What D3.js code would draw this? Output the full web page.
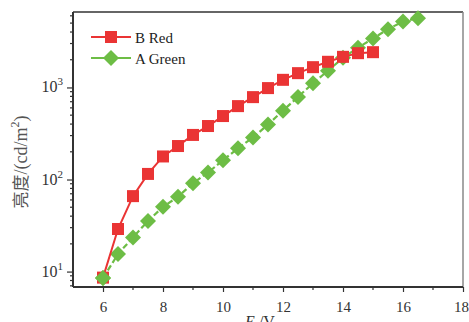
<!DOCTYPE html>
<html>
<head>
<meta charset="utf-8">
<script src="https://cdn.jsdelivr.net/npm/d3@7"></script>
<style>
  body { margin: 0; background: #fff; }
  text { font-family: "Liberation Serif", "Times New Roman", serif; }
</style>
</head>
<body>
<div id="chart"></div>
<script>
const voltage = [6, 6.5, 7, 7.5, 8, 8.5, 9, 9.5, 10, 10.5, 11, 11.5, 12, 12.5, 13, 13.5, 14, 14.5, 15, 15.5, 16, 16.5];
const redLum = [8.6, 29, 66, 115, 178, 231, 305, 381, 489, 627, 785, 984, 1210, 1430, 1661, 1900, 2150, 2357, 2416];
const greenLum = [8.5, 15.5, 23.5, 35.5, 50.5, 65, 91, 119, 162, 218, 286, 395, 560, 790, 1110, 1520, 2100, 2700, 3400, 4300, 5200, 5650];
const xTicks = [6, 8, 10, 12, 14, 16, 18];
const yTicks = [10, 100, 1000];
const seriesNames = ["B Red", "A Green"];

const W = 469, H = 322;
const margin = { top: 12, right: 6, bottom: 35, left: 73 };
const width = W - margin.left - margin.right;
const height = H - margin.top - margin.bottom;

const svg = d3.select("#chart")
    .append("svg")
    .attr("width", W)
    .attr("height", H);
const g = svg.append("g")
    .attr("transform", `translate(${margin.left},${margin.top})`);

const x = d3.scaleLinear().domain([5, 18]).range([0, width]);
const y = d3.scaleLog().domain([6.8, 6600]).range([height, 0]);

// x axis
const xAxis = g.append("g").attr("transform", `translate(0,${height})`);
xAxis.call(d3.axisBottom(x).tickValues(xTicks).tickSize(5).tickFormat(d3.format("d")));
xAxis.selectAll(".tick text").attr("font-size", 15).attr("fill", "#333").attr("dy", "1.1em")
    .attr("dx", d => d === 18 ? -2 : 0);
xAxis.selectAll(".tick line").attr("stroke", "#333").attr("stroke-width", 1.2);
xAxis.select(".domain").remove();
xAxis.selectAll(".minor").data(d3.range(7, 18, 2)).enter().append("line")
    .attr("x1", d => x(d)).attr("x2", d => x(d)).attr("y1", 0).attr("y2", 3)
    .attr("stroke", "#333").attr("stroke-width", 1.2);

// y axis
const yAxis = g.append("g");
yAxis.call(d3.axisLeft(y).tickValues(yTicks).tickSize(6).tickFormat(""));
yAxis.selectAll(".tick line").attr("stroke", "#333").attr("stroke-width", 1.2);
yAxis.select(".domain").remove();
const minorY = [];
[1, 10, 100, 1000].forEach(b => { for (let k = 2; k < 10; k++) { const v = b * k; if (v >= 6.8 && v <= 6600) minorY.push(v); } });
yAxis.selectAll(".minor").data(minorY).enter().append("line")
    .attr("x1", -3).attr("x2", 0).attr("y1", d => y(d)).attr("y2", d => y(d))
    .attr("stroke", "#333").attr("stroke-width", 1.2);
yTicks.forEach(v => {
    const t = yAxis.append("text")
        .attr("x", -10).attr("y", y(v) + 5)
        .attr("text-anchor", "end").attr("font-size", 16).attr("fill", "#333");
    t.append("tspan").text("10");
    t.append("tspan").attr("font-size", 11).attr("dy", -7).text(Math.round(Math.log10(v)));
});

// frame
g.append("line").attr("x1", 0).attr("x2", width).attr("y1", 0).attr("y2", 0).attr("stroke", "#333").attr("stroke-width", 1.5);
g.append("line").attr("x1", width).attr("x2", width).attr("y1", 0).attr("y2", height).attr("stroke", "#888").attr("stroke-width", 1.5);
g.append("line").attr("x1", 0).attr("x2", width).attr("y1", height).attr("y2", height).attr("stroke", "#333").attr("stroke-width", 2);
g.append("line").attr("x1", 0).attr("x2", 0).attr("y1", 0).attr("y2", height).attr("stroke", "#333").attr("stroke-width", 2);

const red = "#ea3434", green = "#6dbd45";
const line = d3.line().x(d => x(d[0])).y(d => y(d[1]));
const redData = redLum.map((v, i) => [voltage[i], v]);
const greenData = greenLum.map((v, i) => [voltage[i], v]);

g.append("path").datum(greenData).attr("d", line)
    .attr("fill", "none").attr("stroke", green).attr("stroke-width", 2.2).attr("stroke-dasharray", "6,3");
g.selectAll(".gpt").data(greenData).enter().append("path")
    .attr("class", "gpt")
    .attr("transform", d => `translate(${x(d[0])},${y(d[1])})`)
    .attr("d", "M0,-8L8,0L0,8L-8,0Z")
    .attr("fill", green);

g.append("path").datum(redData).attr("d", line)
    .attr("fill", "none").attr("stroke", red).attr("stroke-width", 2);
g.selectAll(".rpt").data(redData).enter().append("rect")
    .attr("class", "rpt")
    .attr("x", d => x(d[0]) - 6).attr("y", d => y(d[1]) - 6)
    .attr("width", 12).attr("height", 12)
    .attr("fill", red);
// green on top at first point
g.append("path")
    .attr("transform", `translate(${x(greenData[0][0])},${y(greenData[0][1])})`)
    .attr("d", "M0,-8L8,0L0,8L-8,0Z").attr("fill", green);

// legend
const legend = g.append("g").attr("transform", "translate(18,25)");
[red, green].forEach((c, i) => {
    const ly = i * 21;
    legend.append("line").attr("x1", 0).attr("x2", 40).attr("y1", ly).attr("y2", ly)
        .attr("stroke", c).attr("stroke-width", 2);
    if (i === 0) {
        legend.append("rect").attr("x", 14).attr("y", ly - 6).attr("width", 12).attr("height", 12).attr("fill", c);
    } else {
        legend.append("path").attr("transform", `translate(20,${ly})`).attr("d", "M0,-8L8,0L0,8L-8,0Z").attr("fill", c);
    }
    legend.append("text").attr("x", 44).attr("y", ly + 6).attr("font-size", 15).attr("fill", "#222").text(seriesNames[i]);
});

// axis titles
const yt = svg.append("text")
    .attr("transform", `translate(27,162) rotate(-90)`)
    .attr("text-anchor", "middle").attr("font-size", 18).attr("fill", "#555");
yt.append("tspan").attr("font-family", "'Noto Sans CJK SC', sans-serif").attr("font-size", 17).text("亮度");
yt.append("tspan").text("/(cd/m");
yt.append("tspan").attr("font-size", 12).attr("dy", -8).text("2");
yt.append("tspan").attr("dy", 8).text(")");

const xt = svg.append("text")
    .attr("x", 260).attr("y", 327)
    .attr("text-anchor", "middle").attr("font-size", 16).attr("fill", "#333");
xt.append("tspan").attr("font-style", "italic").text("E");
xt.append("tspan").text(" /V");
</script>
</body>
</html>
